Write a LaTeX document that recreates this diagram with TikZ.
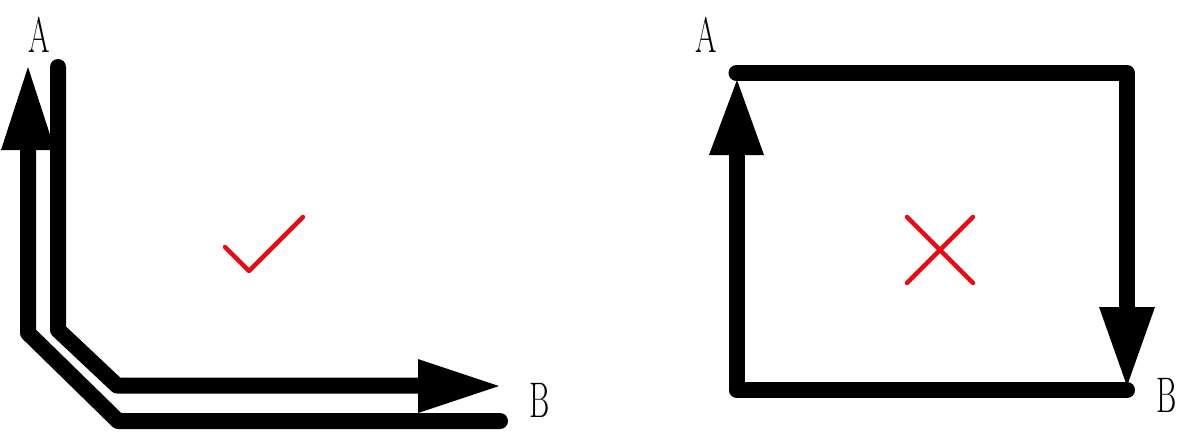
\documentclass[tikz,border=0pt]{standalone}
\usepackage{fontspec}
\definecolor{markred}{RGB}{230,10,20}
\tikzset{
  track/.style={line width=16pt, line cap=round, line join=round, black},
  head/.style={fill=black, draw=none},
  lbl/.style={inner sep=0pt, font=\fontsize{50}{50}\selectfont},
  redmark/.style={line width=4.5pt, line cap=round, line join=round, draw=markred}
}
\newcommand{\narrow}[1]{\scalebox{0.62}[1]{#1}}
\begin{document}
\begin{tikzpicture}[x=1pt,y=-1pt]
\useasboundingbox (0,0) rectangle (1181,434);
% ---------- left figure ----------
\coordinate (o1) at (500,421);
\coordinate (o2) at (118,421);
\coordinate (o3) at (28,333);
\coordinate (o4) at (28,150);
\coordinate (i1) at (58,67);
\coordinate (i2) at (58,330);
\coordinate (i3) at (117,385.5);
\coordinate (i4) at (420,385.5);
\draw[track] (o1) -- (o2) -- (o3) -- (o4);
\draw[track] (i1) -- (i2) -- (i3) -- (i4);
\fill[head] (1,150) -- (55,150) -- (28,67) -- cycle;
\fill[head] (418,359) -- (418,413) -- (499,386) -- cycle;
\node[lbl] (A1) at (39,35) {\narrow{A}};
\node[lbl] (B1) at (540,400) {\narrow{B}};
\draw[redmark] (225,247) -- (249,271) -- (303,217);
% ---------- right figure ----------
\coordinate (r1) at (736.5,156);
\coordinate (r2) at (736.5,390);
\coordinate (r3) at (1127,390);
\coordinate (t1) at (736.5,73);
\coordinate (t2) at (1127,73);
\coordinate (t3) at (1127,308);
\draw[track] (r1) -- (r2) -- (r3);
\draw[track] (t1) -- (t2) -- (t3);
\fill[head] (709,155) -- (764,155) -- (737,80) -- cycle;
\fill[head] (1099,307) -- (1155,307) -- (1127,386) -- cycle;
\node[lbl] (A2) at (706,35) {\narrow{A}};
\node[lbl] (B2) at (1167,395) {\narrow{B}};
\draw[redmark] (907,217) -- (973,283);
\draw[redmark] (973,217) -- (907,283);
\end{tikzpicture}
\end{document}
